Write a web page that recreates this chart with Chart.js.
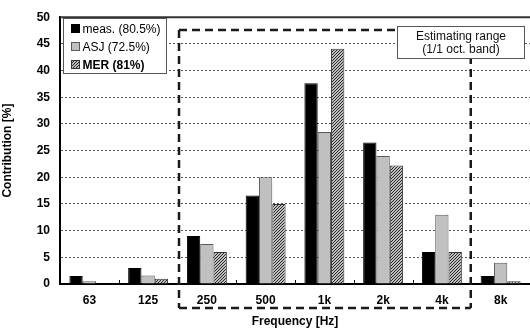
<!DOCTYPE html>
<html>
<head>
<meta charset="utf-8">
<script src="https://cdn.jsdelivr.net/npm/chart.js@4/dist/chart.umd.min.js"></script>
<style>
  html, body { margin: 0; padding: 0; background: #fff; }
  #wrap { width: 530px; height: 329px; }
</style>
</head>
<body>
<div id="wrap"><canvas id="c" width="530" height="329"></canvas></div>
<script>
// Octave-band contributions (%)
const bands = ['63', '125', '250', '500', '1k', '2k', '4k', '8k'];
const measured = [1.5, 3.0, 9.0, 16.6, 37.6, 26.5, 6.0, 1.5];
const asj      = [0.5, 1.6, 7.5, 20.0, 28.5, 24.0, 13.0, 4.0];
const mer      = [0.0, 1.0, 6.0, 15.0, 44.1, 22.2, 6.0, 0.5];
const seriesNames = ['meas. (80.5%)', 'ASJ (72.5%)', 'MER (81%)'];
const yTicks = [0, 5, 10, 15, 20, 25, 30, 35, 40, 45, 50];
// Estimating range spans the 250 Hz .. 4 kHz bands
const rangeFirst = 2, rangeLast = 6, rangeTop = 47.6;
const rangeText = ['Estimating range', '(1/1 oct. band)'];

const AXIS_FAMILY = "'Liberation Sans Narrow', 'Liberation Sans', Arial";

function hatch() {
  const c = document.createElement('canvas');
  c.width = 3; c.height = 3;
  const g = c.getContext('2d');
  g.fillStyle = '#ffffff';
  g.fillRect(0, 0, 3, 3);
  g.strokeStyle = '#1e1e1e';
  g.lineWidth = 1.1;
  g.beginPath();
  g.moveTo(0, 3); g.lineTo(3, 0);
  g.moveTo(-1, 1); g.lineTo(1, -1);
  g.moveTo(2, 4); g.lineTo(4, 2);
  g.stroke();
  return g.createPattern(c, 'repeat');
}
const hatchFill = hatch();

const decor = {
  id: 'decor',
  beforeDatasetsDraw(chart) {
    const { ctx, chartArea: a, scales: { x } } = chart;
    ctx.save();
    // solid top frame line
    ctx.strokeStyle = '#333';
    ctx.lineWidth = 2;
    ctx.beginPath();
    ctx.moveTo(a.left, a.top); ctx.lineTo(a.right, a.top);
    ctx.stroke();
    // small inward ticks at band boundaries
    ctx.strokeStyle = '#000';
    ctx.lineWidth = 1;
    for (let i = 1; i < bands.length; i++) {
      const px = Math.round((x.getPixelForValue(i - 1) + x.getPixelForValue(i)) / 2) + 0.5;
      ctx.beginPath();
      ctx.moveTo(px, a.bottom); ctx.lineTo(px, a.bottom - 4);
      ctx.stroke();
    }
    ctx.restore();
  },
  afterDraw(chart) {
    const { ctx, chartArea: a, scales: { x, y } } = chart;
    ctx.save();
    // dashed estimating-range frame
    const L = (x.getPixelForValue(rangeFirst - 1) + x.getPixelForValue(rangeFirst)) / 2 + 1.5;
    const R = (x.getPixelForValue(rangeLast) + x.getPixelForValue(rangeLast + 1)) / 2 - 0.5;
    const T = y.getPixelForValue(rangeTop);
    const B = a.bottom + 24;
    ctx.strokeStyle = '#1a1a1a';
    ctx.lineWidth = 2.5;
    ctx.setLineDash([8, 5]);
    ctx.beginPath();
    ctx.moveTo(L, T); ctx.lineTo(R, T);
    ctx.moveTo(L, T); ctx.lineTo(L, B);
    ctx.moveTo(L, B); ctx.lineTo(R, B);
    ctx.moveTo(R, T); ctx.lineTo(R, B);
    ctx.stroke();
    ctx.setLineDash([]);

    // range label box
    const bx = Math.round(R - 74) + 0.5, bw = 127, by = Math.round(T - 4) + 0.5, bh = 32;
    ctx.fillStyle = '#fff';
    ctx.fillRect(bx, by, bw, bh);
    ctx.strokeStyle = '#555';
    ctx.lineWidth = 1;
    ctx.strokeRect(bx, by, bw, bh);
    ctx.fillStyle = '#111';
    ctx.font = "12px 'Liberation Sans', Arial, sans-serif";
    ctx.textAlign = 'center';
    ctx.textBaseline = 'middle';
    ctx.fillText(rangeText[0], bx + bw / 2, by + 10);
    ctx.fillText(rangeText[1], bx + bw / 2, by + 23);

    // legend box
    const lx = Math.round(a.left + 3) + 0.5, ly = Math.round(a.top + 1) + 0.5, lw = 103, lh = 55;
    ctx.fillStyle = '#fff';
    ctx.fillRect(lx, ly, lw, lh);
    ctx.strokeStyle = '#555';
    ctx.strokeRect(lx, ly, lw, lh);
    chart.data.datasets.forEach((ds, i) => {
      const cy = ly + 10 + i * 18;
      ctx.fillStyle = ds.backgroundColor;
      ctx.fillRect(lx + 8, cy - 4, 8, 8);
      ctx.strokeStyle = ds.borderColor;
      ctx.lineWidth = 1;
      ctx.strokeRect(lx + 8, cy - 4, 8, 8);
      ctx.fillStyle = '#000';
      ctx.textAlign = 'left';
      ctx.font = (i === 2 ? 'bold ' : '') + "12px 'Liberation Sans', Arial, sans-serif";
      ctx.fillText(ds.label, lx + 19, cy + 1);
    });
    ctx.restore();
  }
};

new Chart(document.getElementById('c'), {
  type: 'bar',
  data: {
    labels: bands,
    datasets: [
      { label: seriesNames[0], data: measured, backgroundColor: '#000000', borderColor: '#000000', borderWidth: 1 },
      { label: seriesNames[1], data: asj, backgroundColor: '#c0c0c0', borderColor: '#5a5a5a', borderWidth: 1 },
      { label: seriesNames[2], data: mer, backgroundColor: hatchFill, borderColor: '#333333', borderWidth: 1 }
    ]
  },
  options: {
    responsive: false,
    animation: false,
    devicePixelRatio: 1,
    layout: { padding: { top: 6, right: 0, left: 0, bottom: 0 } },
    datasets: { bar: { categoryPercentage: 0.68, barPercentage: 1.0 } },
    plugins: { legend: { display: false }, tooltip: { enabled: false } },
    scales: {
      x: {
        grid: { display: false, drawTicks: false },
        border: { display: true, color: '#000', width: 2 },
        ticks: { color: '#000', font: { family: AXIS_FAMILY, size: 12, weight: 'bold' }, padding: 9, maxRotation: 0 },
        title: { display: true, text: 'Frequency [Hz]', color: '#000', font: { family: AXIS_FAMILY, size: 12, weight: 'bold' }, padding: { top: 0, bottom: 0 } },
        afterFit(s) { s.height = 45; }
      },
      y: {
        min: 0, max: 50,
        afterBuildTicks(s) { s.ticks = yTicks.map(v => ({ value: v })); },
        grid: {
          drawTicks: false,
          color: c => (c.tick && (c.tick.value === 0 || c.tick.value === 50)) ? 'rgba(0,0,0,0)' : '#555',
          lineWidth: 1
        },
        border: { display: true, color: '#000', width: 2, dash: [2, 2] },
        ticks: { color: '#000', font: { family: AXIS_FAMILY, size: 12, weight: 'bold' }, padding: 10 },
        title: { display: true, text: 'Contribution [%]', color: '#000', font: { family: AXIS_FAMILY, size: 12, weight: 'bold' }, padding: { top: 0, bottom: 0 } },
        afterFit(s) { s.width = 60; }
      }
    }
  },
  plugins: [decor]
});
</script>
</body>
</html>
